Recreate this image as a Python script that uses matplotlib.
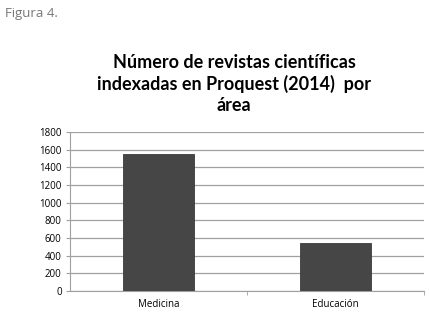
import matplotlib.pyplot as plt
import numpy as np

categories = ["Medicina", "Educación"]
values = [1550, 545]
yticks = [0, 200, 400, 600, 800, 1000, 1200, 1400, 1600, 1800]

fig = plt.figure(figsize=(4.29, 3.21), dpi=100)
W, H = 429, 321
ax = fig.add_axes([70 / W, 1 - 291 / H, (424 - 70) / W, (291 - 132) / H])

x = np.arange(len(categories))
ax.bar(x, values, width=0.4, color="#464646", edgecolor="#3a3a3a", linewidth=0.6, zorder=3)
ax.set_xlim(-0.5, 1.5)
ax.set_ylim(0, 1800)
ax.set_yticks(yticks)
ax.set_yticklabels([str(t) for t in yticks], fontsize=7, family="Open Sans")
ax.yaxis.grid(True, color="#a0a0a0", linewidth=0.9, zorder=0)
ax.set_xticks(x)
ax.set_xticklabels(categories, fontsize=7, family="Open Sans")
ax.tick_params(axis="x", length=0, pad=6)
ax.set_xticks([0.5, 1.5], minor=True)
ax.tick_params(axis="x", which="minor", length=3, color="#a0a0a0")
ax.tick_params(axis="y", length=3, color="#a0a0a0", pad=3)
for s in ["top", "right"]:
    ax.spines[s].set_visible(False)
ax.spines["left"].set_color("#a0a0a0")
ax.spines["bottom"].set_color("#a0a0a0")

fig.text(234 / W, 1 - 84 / H,
         "Número de revistas científicas\nindexadas en Proquest (2014)  por\nárea",
         ha="center", va="center", fontsize=13, fontweight="bold",
         family="Lato", linespacing=1.27)
fig.text(5 / W, 1 - 13 / H, "Figura 4.", ha="left", va="center",
         fontsize=9.5, color="#777777", family="Open Sans")

fig.savefig("out.png", dpi=100)
